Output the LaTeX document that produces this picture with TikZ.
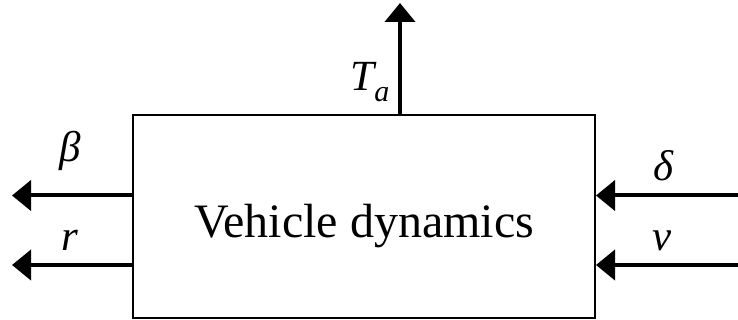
\documentclass[tikz,border=0pt]{standalone}
\usepackage{fontspec}
\setmainfont{Liberation Serif}
\usetikzlibrary{arrows.meta,calc}
\begin{document}
\begin{tikzpicture}[x=1pt,y=-1pt,
  sig/.style={line width=4pt,-{Triangle[length=19pt,width=30pt]}},
  lbl/.style={inner sep=0pt,anchor=base,font=\fontsize{43}{46}\selectfont\itshape},
  blk/.style={draw,line width=2pt,inner sep=0pt,minimum width=462pt,minimum height=203pt,font=\fontsize{48}{56}\selectfont}]
\useasboundingbox (0,0) rectangle (738,320);
\node[blk] (box) at (364,216.5) {};
\node[inner sep=0pt,anchor=base,font=\fontsize{48}{56}\selectfont] (txt) at (364,237) {Vehicle dynamics};
% outputs left
\coordinate (bo) at (12,195.5);
\coordinate (ro) at (12,265);
\draw[sig] (box.west |- bo) -- (bo);
\draw[sig] (box.west |- ro) -- (ro);
% inputs right
\coordinate (di) at (738,195.5);
\coordinate (vi) at (738,265);
\draw[sig] (di) -- (box.east |- di);
\draw[sig] (vi) -- (box.east |- vi);
% torque up
\coordinate (to) at (400,3);
\draw[sig] (box.north -| to) -- (to);
% labels
\node[lbl] (lb) at (70,162) {β};
\node[lbl] (lr) at (70,251) {r};
\node[lbl] (ld) at (663,181) {δ};
\node[lbl] (lv) at (662,251) {v};
\node[lbl] (lt) at (370,91) {T\raisebox{-0.25em}{\fontsize{30}{32}\selectfont a}};
\end{tikzpicture}
\end{document}
